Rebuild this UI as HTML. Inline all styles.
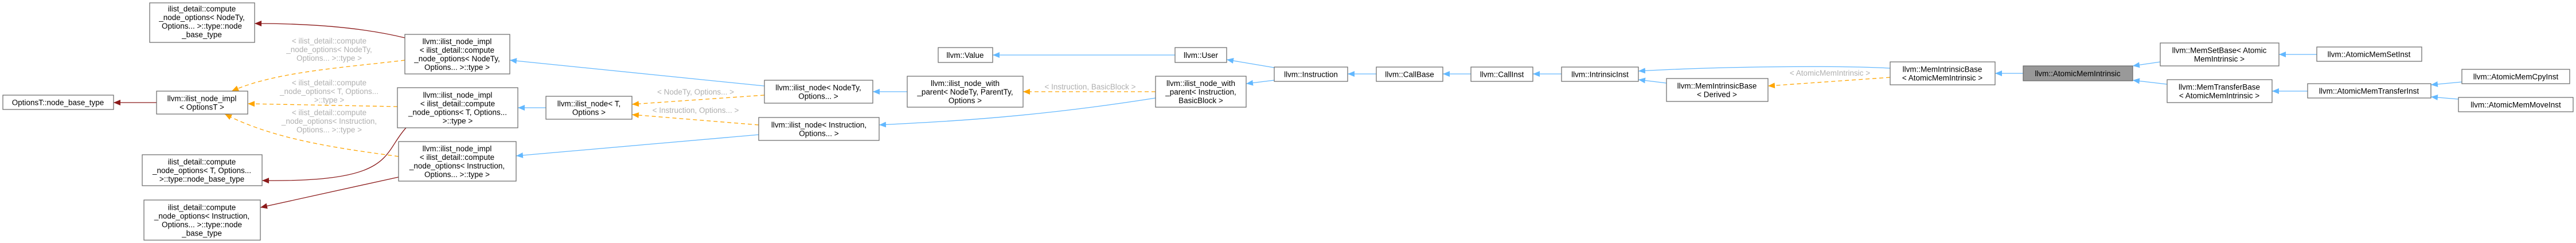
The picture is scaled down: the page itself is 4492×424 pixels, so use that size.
<!DOCTYPE html>
<html><head><meta charset="utf-8"><style>
html,body{margin:0;padding:0;background:#fff;}
svg{display:block;}
text{font-family:"Liberation Sans",sans-serif;font-size:13.5px;fill:#000;text-anchor:middle;}
text.l{fill:#b0b0b0;}
rect{fill:#fff;stroke:#666;stroke-width:1.2;}
path{fill:none;stroke-width:1.3;}
.b{stroke:#63b8ff;}
.o{stroke:#ffa500;stroke-dasharray:7,5;}
.r{stroke:#8b1a1a;}
</style></head><body>
<svg width="4492" height="424" viewBox="0 0 4492 424" xmlns="http://www.w3.org/2000/svg">
<defs>
<marker id="mb" markerUnits="userSpaceOnUse" markerWidth="12" markerHeight="10" refX="12" refY="5" orient="auto"><path d="M0,0 L12,5 L0,10 z" style="fill:#63b8ff;stroke:none"/></marker>
<marker id="mo" markerUnits="userSpaceOnUse" markerWidth="12" markerHeight="10" refX="12" refY="5" orient="auto"><path d="M0,0 L12,5 L0,10 z" style="fill:#ffa500;stroke:none"/></marker>
<marker id="mr" markerUnits="userSpaceOnUse" markerWidth="12" markerHeight="10" refX="12" refY="5" orient="auto"><path d="M0,0 L12,5 L0,10 z" style="fill:#8b1a1a;stroke:none"/></marker>
</defs>

<!-- edges -->
<path class="r" marker-end="url(#mr)" d="M706,66 C620,45 520,41 444,41"/>
<path class="r" marker-end="url(#mr)" d="M273,179 L198,179"/>
<path class="r" marker-end="url(#mr)" d="M708,223 C665,270 690,318 457,315"/>
<path class="r" marker-end="url(#mr)" d="M695,309 L454,362"/>
<path class="o" marker-end="url(#mo)" d="M706,105 C600,118 480,125 404,159"/>
<path class="o" marker-end="url(#mo)" d="M693,186 L432,181"/>
<path class="o" marker-end="url(#mo)" d="M695,273 C600,260 480,245 392,199"/>
<path class="b" marker-end="url(#mb)" d="M1333,150 L889,105"/>
<path class="b" marker-end="url(#mb)" d="M952,188 L903,188"/>
<path class="b" marker-end="url(#mb)" d="M1323,235 L900,272"/>
<path class="o" marker-end="url(#mo)" d="M1333,166 L1102,182"/>
<path class="o" marker-end="url(#mo)" d="M1323,218 L1102,200"/>
<path class="b" marker-end="url(#mb)" d="M1582,160 L1522,160"/>
<path class="b" marker-end="url(#mb)" d="M2049,96 L1731,96"/>
<path class="o" marker-end="url(#mo)" d="M2015,160 L1784,160"/>
<path class="b" marker-end="url(#mb)" d="M2015,171 C1800,205 1650,212 1533,218"/>
<path class="b" marker-end="url(#mb)" d="M2222,118 L2139,104"/>
<path class="b" marker-end="url(#mb)" d="M2222,140 L2173,146"/>
<path class="b" marker-end="url(#mb)" d="M2400,129 L2350,129"/>
<path class="b" marker-end="url(#mb)" d="M2565,129 L2516,129"/>
<path class="b" marker-end="url(#mb)" d="M2723,129 L2673,129"/>
<path class="b" marker-end="url(#mb)" d="M2906,145 L2857,139"/>
<path class="b" marker-end="url(#mb)" d="M3296,119 C3200,114 3000,116 2857,124"/>
<path class="o" marker-end="url(#mo)" d="M3296,135 L3083,150"/>
<path class="b" marker-end="url(#mb)" d="M3528,128 L3479,128"/>
<path class="b" marker-end="url(#mb)" d="M3767,108 L3719,115"/>
<path class="b" marker-end="url(#mb)" d="M3779,147 L3719,140"/>
<path class="b" marker-end="url(#mb)" d="M4040,95 L3974,95"/>
<path class="b" marker-end="url(#mb)" d="M4024,159 L3962,159"/>
<path class="b" marker-end="url(#mb)" d="M4293,143 L4239,148"/>
<path class="b" marker-end="url(#mb)" d="M4287,173 L4239,169"/>

<!-- edge labels -->
<text class="l" x="574" y="76">&lt; ilist_detail::compute</text>
<text class="l" x="574" y="91">_node_options&lt; NodeTy,</text>
<text class="l" x="574" y="106">Options... &gt;::type &gt;</text>
<text class="l" x="574" y="149">&lt; ilist_detail::compute</text>
<text class="l" x="574" y="164">_node_options&lt; T, Options...</text>
<text class="l" x="574" y="179">&gt;::type &gt;</text>
<text class="l" x="574" y="201">&lt; ilist_detail::compute</text>
<text class="l" x="574" y="216">_node_options&lt; Instruction,</text>
<text class="l" x="574" y="231">Options... &gt;::type &gt;</text>
<text class="l" x="1213" y="165">&lt; NodeTy, Options... &gt;</text>
<text class="l" x="1213" y="197">&lt; Instruction, Options... &gt;</text>
<text class="l" x="1901" y="156">&lt; Instruction, BasicBlock &gt;</text>
<text class="l" x="3191" y="132">&lt; AtomicMemIntrinsic &gt;</text>

<!-- nodes -->
<rect x="261" y="5" width="183" height="69"/>
<text x="352" y="20">ilist_detail::compute</text><text x="352" y="35">_node_options&lt; NodeTy,</text><text x="352" y="50">Options... &gt;::type::node</text><text x="352" y="65">_base_type</text>

<rect x="5" y="166" width="193" height="25"/>
<text x="101" y="183.5">OptionsT::node_base_type</text>

<rect x="273" y="159" width="159" height="40"/>
<text x="352" y="176.5">llvm::ilist_node_impl</text><text x="352" y="191.5">&lt; OptionsT &gt;</text>

<rect x="248" y="270" width="209" height="54"/>
<text x="352" y="287">ilist_detail::compute</text><text x="352" y="302">_node_options&lt; T, Options...</text><text x="352" y="317">&gt;::type::node_base_type</text>

<rect x="251" y="349" width="203" height="70"/>
<text x="352" y="366.5">ilist_detail::compute</text><text x="352" y="381.5">_node_options&lt; Instruction,</text><text x="352" y="396.5">Options... &gt;::type::node</text><text x="352" y="411.5">_base_type</text>

<rect x="706" y="60" width="183" height="69"/>
<text x="797" y="77">llvm::ilist_node_impl</text><text x="797" y="92">&lt; ilist_detail::compute</text><text x="797" y="107">_node_options&lt; NodeTy,</text><text x="797" y="122">Options... &gt;::type &gt;</text>

<rect x="693" y="153" width="210" height="70"/>
<text x="798" y="170.5">llvm::ilist_node_impl</text><text x="798" y="185.5">&lt; ilist_detail::compute</text><text x="798" y="200.5">_node_options&lt; T, Options...</text><text x="798" y="215.5">&gt;::type &gt;</text>

<rect x="695" y="247" width="205" height="69"/>
<text x="797" y="264">llvm::ilist_node_impl</text><text x="797" y="279">&lt; ilist_detail::compute</text><text x="797" y="294">_node_options&lt; Instruction,</text><text x="797" y="309">Options... &gt;::type &gt;</text>

<rect x="952" y="168" width="150" height="40"/>
<text x="1027" y="185.5">llvm::ilist_node&lt; T,</text><text x="1027" y="200.5">Options &gt;</text>

<rect x="1333" y="140" width="189" height="40"/>
<text x="1427" y="157.5">llvm::ilist_node&lt; NodeTy,</text><text x="1427" y="172.5">Options... &gt;</text>

<rect x="1323" y="205" width="210" height="40"/>
<text x="1428" y="222.5">llvm::ilist_node&lt; Instruction,</text><text x="1428" y="237.5">Options... &gt;</text>

<rect x="1636" y="83" width="95" height="26"/>
<text x="1683" y="101">llvm::Value</text>

<rect x="2049" y="83" width="90" height="26"/>
<text x="2094" y="101">llvm::User</text>

<rect x="1582" y="133" width="202" height="54"/>
<text x="1683" y="150">llvm::ilist_node_with</text><text x="1683" y="165">_parent&lt; NodeTy, ParentTy,</text><text x="1683" y="180">Options &gt;</text>

<rect x="2015" y="133" width="158" height="54"/>
<text x="2094" y="150">llvm::ilist_node_with</text><text x="2094" y="165">_parent&lt; Instruction,</text><text x="2094" y="180">BasicBlock &gt;</text>

<rect x="2222" y="117" width="128" height="25"/>
<text x="2286" y="134.5">llvm::Instruction</text>

<rect x="2400" y="117" width="116" height="25"/>
<text x="2458" y="134.5">llvm::CallBase</text>

<rect x="2565" y="117" width="108" height="25"/>
<text x="2619" y="134.5">llvm::CallInst</text>

<rect x="2723" y="117" width="134" height="25"/>
<text x="2790" y="134.5">llvm::IntrinsicInst</text>

<rect x="2906" y="137" width="177" height="40"/>
<text x="2994" y="154.5">llvm::MemIntrinsicBase</text><text x="2994" y="169.5">&lt; Derived &gt;</text>

<rect x="3296" y="108" width="183" height="40"/>
<text x="3387" y="125.5">llvm::MemIntrinsicBase</text><text x="3387" y="140.5">&lt; AtomicMemIntrinsic &gt;</text>

<rect x="3528" y="115" width="191" height="26" style="fill:#999"/>
<text x="3623" y="133">llvm::AtomicMemIntrinsic</text>

<rect x="3767" y="75" width="207" height="40"/>
<text x="3870" y="92.5">llvm::MemSetBase&lt; Atomic</text><text x="3870" y="107.5">MemIntrinsic &gt;</text>

<rect x="3779" y="139" width="183" height="40"/>
<text x="3870" y="156.5">llvm::MemTransferBase</text><text x="3870" y="171.5">&lt; AtomicMemIntrinsic &gt;</text>

<rect x="4040" y="82" width="183" height="25"/>
<text x="4131" y="99.5">llvm::AtomicMemSetInst</text>

<rect x="4024" y="146" width="215" height="25"/>
<text x="4131" y="163.5">llvm::AtomicMemTransferInst</text>

<rect x="4293" y="121" width="188" height="25"/>
<text x="4387" y="138.5">llvm::AtomicMemCpyInst</text>

<rect x="4287" y="170" width="200" height="25"/>
<text x="4387" y="187.5">llvm::AtomicMemMoveInst</text>
</svg>
</body></html>
